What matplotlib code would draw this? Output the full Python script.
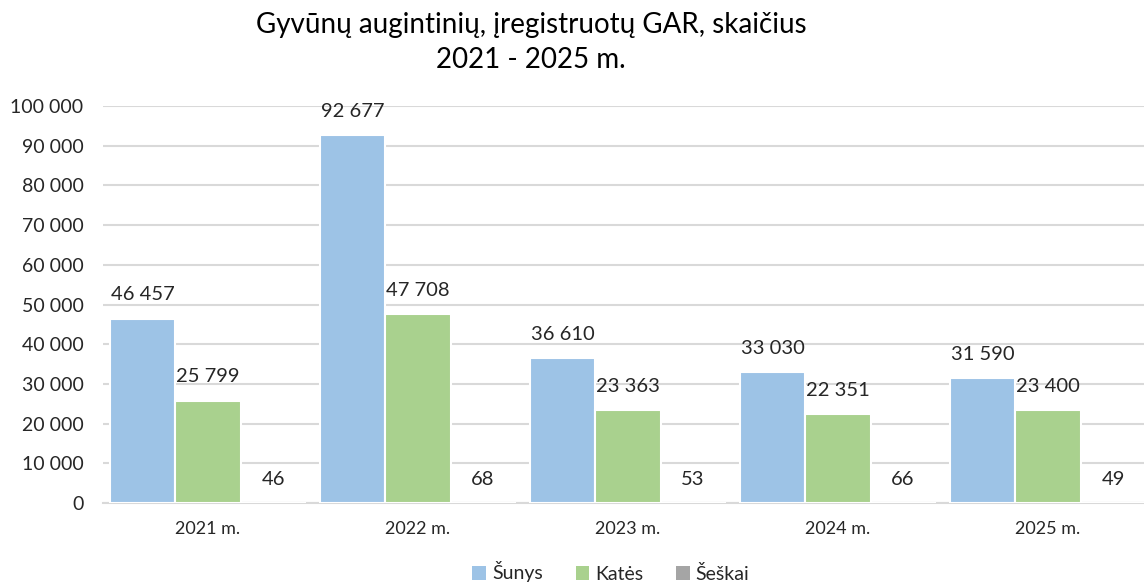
import matplotlib
matplotlib.use("Agg")
import matplotlib.pyplot as plt
import numpy as np
from matplotlib.patches import Patch

categories = ["2021 m.", "2022 m.", "2023 m.", "2024 m.", "2025 m."]
sunys = [46457, 92677, 36610, 33030, 31590]
kates = [25799, 47708, 23363, 22351, 23400]
seskai = [46, 68, 53, 66, 49]
series_names = ["Šunys", "Katės", "Šeškai"]
colors = ["#9DC3E6", "#A9D18E", "#A5A5A5"]
yticks = [0, 10000, 20000, 30000, 40000, 50000, 60000, 70000, 80000, 90000, 100000]

plt.rcParams['font.family'] = ['Lato', 'DejaVu Sans']

W, H = 1144, 582
fig = plt.figure(figsize=(W / 100, H / 100), dpi=100)
left, right = 103, 1153
top, bottom = 106, 503
ax = fig.add_axes([left / W, 1 - bottom / H, (right - left) / W, (bottom - top) / H])

def fmt(v):
    return f"{v:,}".replace(",", " ")

x = np.arange(len(categories))
bw = 0.31
offsets = [-bw, 0, bw]
for data, off, col in zip([sunys, kates, seskai], offsets, colors):
    bars = ax.bar(x + off, data, width=bw, color=col, edgecolor="white", linewidth=1.5, zorder=3)
    for b, v in zip(bars, data):
        ax.text(b.get_x() + b.get_width() / 2, v + 3800, fmt(v), ha="center", va="bottom",
                fontsize=14.5, color="#262626", zorder=4)

ax.set_xlim(-0.5, len(categories) - 0.5)
ax.set_ylim(0, 100000)
ax.set_yticks(yticks)
ax.set_yticklabels([fmt(t) for t in yticks], fontsize=14, color="#262626")
ax.set_xticks(x)
ax.set_xticklabels(categories, fontsize=13, color="#262626")
ax.tick_params(axis="both", length=0)
ax.tick_params(axis="y", pad=14)
ax.tick_params(axis="x", pad=13)
ax.grid(axis="y", color="#D9D9D9", linewidth=1.5, zorder=0)
for s in ["top", "right", "left"]:
    ax.spines[s].set_visible(False)
ax.spines["bottom"].set_color("#D9D9D9")
ax.spines["bottom"].set_linewidth(1.5)

fig.text(531 / W, 1 - 25 / H, "Gyvūnų augintinių, įregistruotų GAR, skaičius", ha="center", va="center",
         fontsize=20, color="#000000")
fig.text(531 / W, 1 - 60 / H, "2021 - 2025 m.", ha="center", va="center", fontsize=20, color="#000000")

handles = [Patch(facecolor=c, edgecolor="none") for c in colors]
fig.legend(handles, series_names, loc="center", bbox_to_anchor=(611 / W, 1 - 572 / H), ncol=3, frameon=False,
           fontsize=14, handlelength=0.7, handleheight=0.7, handletextpad=0.3, columnspacing=1.7,
           labelcolor="#262626")

fig.savefig("out.png", dpi=100)
